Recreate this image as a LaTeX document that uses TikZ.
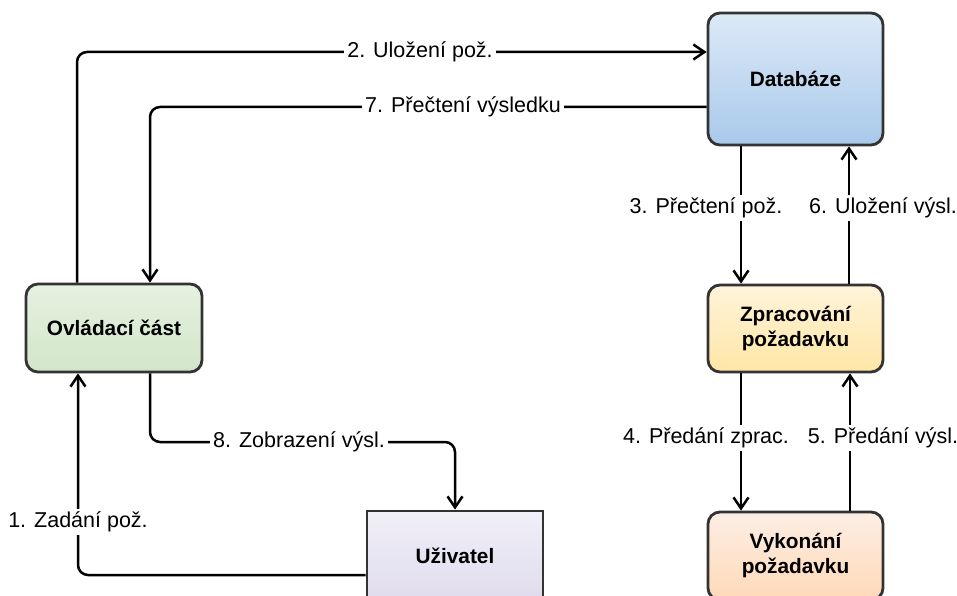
\documentclass[tikz,border=0pt]{standalone}
\usepackage{fontspec}
\setmainfont{Liberation Sans}
\usetikzlibrary{arrows.meta}
\definecolor{edgegray}{HTML}{333333}
\definecolor{dbtop}{HTML}{DCE9F8}
\definecolor{dbbot}{HTML}{A9C9EA}
\definecolor{grtop}{HTML}{E6F1E0}
\definecolor{grbot}{HTML}{D2E6CA}
\definecolor{yetop}{HTML}{FFF4DA}
\definecolor{yebot}{HTML}{FFE6A6}
\definecolor{ortop}{HTML}{FCEEE4}
\definecolor{orbot}{HTML}{FFD9B8}
\definecolor{putop}{HTML}{F1EFF8}
\definecolor{pubot}{HTML}{E0DCEE}
\tikzset{
  box/.style={draw=edgegray, line width=2.8pt, rounded corners=12pt, inner sep=0pt,
    minimum width=175pt, minimum height=87pt, align=center,
    font=\fontsize{20.8}{25}\selectfont\bfseries},
  sqbox/.style={box, rounded corners=0pt},
  conn/.style={line width=2.5pt, rounded corners=10pt,
    -{Straight Barb[length=11pt,width=15pt]}},
  lbl/.style={fill=white, inner sep=3pt, font=\fontsize{21.5}{25}\selectfont}
}
\begin{document}
\begin{tikzpicture}[x=1pt,y=-1pt]
\useasboundingbox (0,0) rectangle (957,596);
% nodes
\node[box, top color=dbtop, bottom color=dbbot, minimum height=132pt] (db) at (795.5,79) {Databáze};
\node[box, top color=yetop, bottom color=yebot] (proc) at (795.5,328.5) {Zpracování\\požadavku};
\node[box, top color=ortop, bottom color=orbot, minimum height=88pt] (exe) at (795.5,556) {Vykonání\\požadavku};
\node[box, top color=grtop, bottom color=grbot, minimum width=176pt, minimum height=88pt] (ctrl) at (114,328) {Ovládací část};
\node[sqbox, top color=putop, bottom color=pubot, minimum width=176pt, minimum height=89pt] (user) at (455,555.5) {Uživatel};
% connectors
\draw[conn] (ctrl.north -| 77,0) |- (db.west |- 0,52);
\draw[conn] (db.west |- 0,107) -| (ctrl.north -| 150,0);
\draw[conn] (db.south -| 741,0) -- (proc.north -| 741,0);
\draw[conn] (proc.north -| 849,0) -- (db.south -| 849,0);
\draw[conn] (proc.south -| 741,0) -- (exe.north -| 741,0);
\draw[conn] (exe.north -| 850,0) -- (proc.south -| 850,0);
\draw[conn] (ctrl.south -| 150,0) |- (user.north |- 0,442) -- (user.north);
\draw[conn] (user.west |- 0,575) -| (ctrl.south -| 78,0);
% labels
\node[lbl] (l2) at (420,52) {2. Uložení pož.};
\node[lbl] (l7) at (463,107) {7. Přečtení výsledku};
\node[lbl] (l3) at (706,208) {3. Přečtení pož.};
\node[lbl] (l6) at (883,208) {6. Uložení výsl.};
\node[lbl] (l4) at (706,438) {4. Předání zprac.};
\node[lbl] (l5) at (883,438) {5. Předání výsl.};
\node[lbl] (l8) at (299,442) {8. Zobrazení výsl.};
\node[lbl] (l1) at (78,522) {1. Zadání pož.};
\end{tikzpicture}
\end{document}
